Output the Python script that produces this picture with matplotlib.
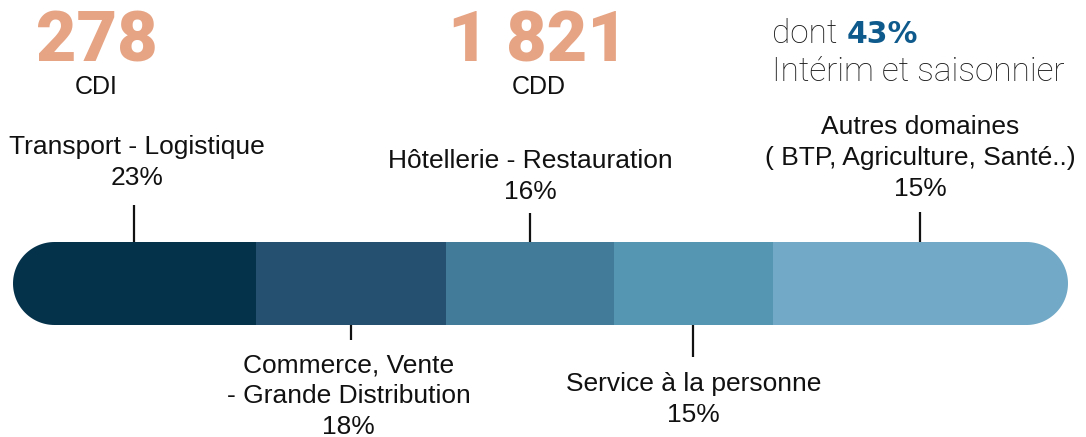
import matplotlib
matplotlib.use("Agg")
import matplotlib.pyplot as plt
from matplotlib.patches import PathPatch
from matplotlib.path import Path
import numpy as np

# ---- data ----
categories = [["Transport - Logistique"],
              ["Commerce, Vente", "- Grande Distribution"],
              ["Hôtellerie - Restauration"],
              ["Service à la personne"],
              ["Autres domaines", "( BTP, Agriculture, Santé..)"]]
pct_labels = ["23%", "18%", "16%", "15%", "15%"]
bar_widths = [23, 18, 16, 15, 28]          # drawn width of each segment (% of bar)
label_side = ["top", "bottom", "top", "bottom", "top"]
colors = ["#05324b", "#25506f", "#427a9a", "#5597b3", "#71a9c6"]

cdi_value = "278"
cdd_value = "1 821"
interim_share = "43%"

# ---- figure ----
W, H = 1086, 437
fig = plt.figure(figsize=(W / 100, H / 100), dpi=100)
ax = fig.add_axes([0, 0, 1, 1])
bar_x0, bar_x1 = 13, 1068
px_per_unit = (bar_x1 - bar_x0) / 100.0
ax.set_xlim(-bar_x0 / px_per_unit, 100 + (W - bar_x1) / px_per_unit)
ax.set_ylim(H, 0)
ax.axis("off")

def xpx(p):
    return ax.get_xlim()[0] + p / px_per_unit

bar_top, bar_h = 242, 83
lefts = np.concatenate([[0], np.cumsum(bar_widths)[:-1]])
total = float(np.sum(bar_widths))

# capsule clip path (semicircular ends)
r_y = bar_h / 2
r_x = r_y / px_per_unit
cy = bar_top + r_y
t = np.linspace(np.pi / 2, 3 * np.pi / 2, 60)
left_arc = np.column_stack([r_x + r_x * np.cos(t), cy - r_y * np.sin(t)])
t2 = np.linspace(-np.pi / 2, np.pi / 2, 60)
right_arc = np.column_stack([total - r_x + r_x * np.cos(t2), cy - r_y * np.sin(t2)])
verts = np.vstack([left_arc, right_arc, left_arc[:1]])
codes = [Path.MOVETO] + [Path.LINETO] * (len(verts) - 2) + [Path.CLOSEPOLY]
clip = PathPatch(Path(verts, codes), transform=ax.transData,
                 facecolor="none", edgecolor="none")
ax.add_patch(clip)

bars = ax.barh([cy] * len(bar_widths), bar_widths, left=lefts,
               height=bar_h, color=colors, edgecolor="none", antialiased=True)
for b in bars:
    b.set_clip_path(clip)

label_font = dict(family=["Liberation Sans", "DejaVu Sans"], fontsize=19, color="#111111")
first_baseline = [154, 372, 168, 391, 134.5]
pitch = 30.8
tick_end = [205, 340, 213, 357, 212]
text_shift_px = [2.5, -2, 0, 0, 0]
for i, (cat, pct, side) in enumerate(zip(categories, pct_labels, label_side)):
    cx = lefts[i] + bar_widths[i] / 2
    if side == "top":
        ax.plot([cx, cx], [tick_end[i], bar_top], color="#111111", lw=1.6,
                solid_capstyle="butt")
    else:
        ax.plot([cx, cx], [bar_top + bar_h, tick_end[i]], color="#111111", lw=1.6,
                solid_capstyle="butt")
    tx = cx + text_shift_px[i] / px_per_unit
    for k, line in enumerate(cat + [pct]):
        ax.text(tx, first_baseline[i] + k * pitch, line, ha="center", va="baseline",
                **label_font)

# ---- headline numbers ----
orange = "#e6a484"
big = dict(family=["Roboto", "DejaVu Sans"], fontsize=50.5, fontweight="black", color=orange)
ax.text(xpx(96.5), 62, cdi_value, ha="center", va="baseline", **big)
ax.text(xpx(96), 94, "CDI", ha="center", va="baseline",
        family=["Liberation Sans", "DejaVu Sans"], fontsize=18, color="#111111")
ax.text(xpx(537.5), 62, cdd_value, ha="center", va="baseline", **big)
ax.text(xpx(539), 94, "CDD", ha="center", va="baseline",
        family=["Liberation Sans", "DejaVu Sans"], fontsize=18, color="#111111")

light = dict(family=["Roboto", "DejaVu Sans"], fontsize=24, fontweight="light", color="#1a1a1a")
t1 = ax.text(xpx(772), 43, "dont ", ha="left", va="baseline", **light)
fig.canvas.draw()
bb = t1.get_window_extent()
x_after = ax.transData.inverted().transform((bb.x1 + 1, 0))[0]
ax.text(x_after, 43, interim_share, ha="left", va="baseline",
        family=["DejaVu Sans"], fontsize=21.5, fontweight="bold",
        color="#0f5a8c")
ax.text(xpx(772), 81, "Intérim et saisonnier", ha="left", va="baseline", **light)

fig.savefig("out.png", dpi=100)
